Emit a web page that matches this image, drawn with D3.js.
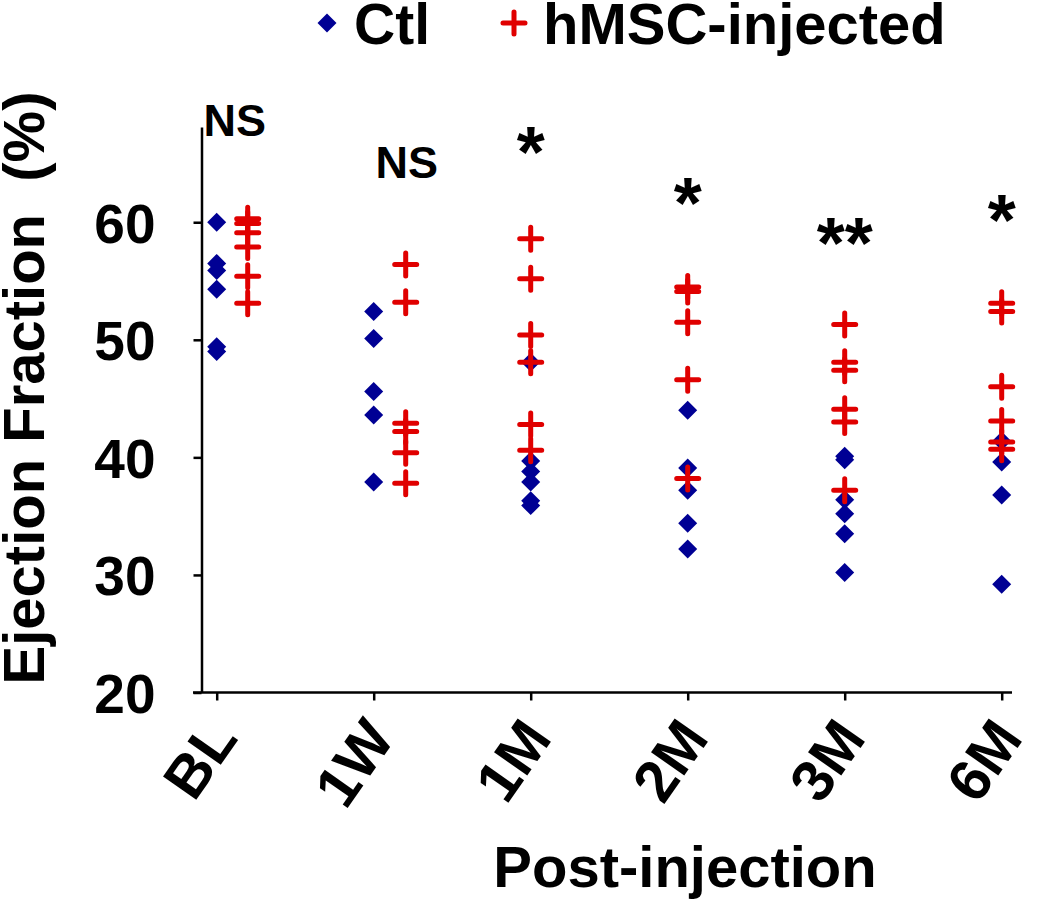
<!DOCTYPE html>
<html>
<head>
<meta charset="utf-8">
<script src="https://cdn.jsdelivr.net/npm/d3@7"></script>
<style>
  body { margin: 0; background: #fff; }
  svg { display: block; font-family: "Liberation Sans", Arial, sans-serif; font-weight: bold; }
</style>
</head>
<body>
<svg id="chart" width="1050" height="900"></svg>
<script>
// ---- data ----
const categories = ["BL", "1W", "1M", "2M", "3M", "6M"];
const ctlValues = [
  [60.0, 56.5, 55.9, 54.3, 49.4, 49.0],
  [52.4, 50.1, 45.6, 43.6, 37.9],
  [48.1, 39.7, 38.8, 37.9, 36.3, 35.9],
  [44.0, 39.1, 37.2, 34.4, 32.2],
  [40.1, 39.8, 36.4, 35.2, 33.5, 30.2],
  [41.4, 39.6, 36.8, 29.2]
];
const hmscValues = [
  [60.3, 59.9, 59.1, 57.9, 55.4, 53.1],
  [56.4, 53.2, 42.9, 42.2, 40.4, 37.8],
  [58.6, 55.2, 50.4, 48.1, 42.8, 40.6],
  [54.5, 54.1, 51.5, 46.6, 38.2],
  [51.3, 48.1, 47.4, 44.1, 43.0, 37.2],
  [53.1, 52.4, 46.0, 43.1, 41.3, 40.7]
];
const yTicks = [20, 30, 40, 50, 60];
const sigLabels = ["NS", "NS", "*", "*", "**", "*"];
const sigLevels = [67.3, 63.8, 66.8, 62.5, 59.1, 61.0];
const seriesNames = ["Ctl", "hMSC-injected"];

// ---- layout ----
const svg = d3.select("#chart");
const ctlColor = "#000094";
const hmscColor = "#e00000";
const x = d3.scalePoint().domain(categories).range([216.7, 1001.7]);
const y = d3.scaleLinear().domain([20, 68.1]).range([692.5, 127]);
const hmscShift = [31, 32, 0, 0, 0, 0];
const sigShift = [18, 33, 0, 0, 0, 0];

const diamond = r => `M0,${-r}L${r},0L0,${r}L${-r},0Z`;
const crossPath = (w, h) => `M${-w},0H${w}M0,${-h}V${h}`;

// axes
const yAxis = svg.append("g").attr("transform", "translate(201.5,0)")
  .call(d3.axisLeft(y).tickValues(yTicks).tickSize(8).tickSizeOuter(0).tickPadding(38));
yAxis.select(".domain").attr("stroke-width", 2.5).attr("stroke", "#000");
yAxis.selectAll(".tick line").attr("stroke-width", 2.5).attr("stroke", "#000");
yAxis.selectAll(".tick text").attr("font-size", 55).attr("font-weight", "bold")
  .attr("font-family", "Liberation Sans, Arial, sans-serif").attr("fill", "#000").attr("dy", "0.36em");

const xAxis = svg.append("g").attr("transform", "translate(0,692.5)")
  .call(d3.axisBottom(x).tickSize(8).tickSizeOuter(0));
xAxis.select(".domain").attr("d", "M193,0H1012").attr("stroke-width", 2.5).attr("stroke", "#000");
xAxis.selectAll(".tick line").attr("stroke-width", 2.5).attr("stroke", "#000");
xAxis.selectAll(".tick text")
  .attr("x", 0).attr("y", 0).attr("dy", 0)
  .attr("transform", "translate(22,46) rotate(-55)")
  .attr("text-anchor", "end")
  .attr("font-size", 59).attr("font-weight", "bold")
  .attr("font-family", "Liberation Sans, Arial, sans-serif").attr("fill", "#000");

// points
const ctlPts = [];
ctlValues.forEach((arr, i) => arr.forEach(v => ctlPts.push({c: categories[i], v})));
const hmscPts = [];
hmscValues.forEach((arr, i) => arr.forEach(v => hmscPts.push({c: categories[i], i, v})));

svg.append("g").selectAll("path").data(ctlPts).join("path")
  .attr("d", diamond(9.5))
  .attr("transform", d => `translate(${x(d.c)},${y(d.v)})`)
  .attr("fill", ctlColor);

svg.append("g").selectAll("path").data(hmscPts).join("path")
  .attr("d", crossPath(11, 11.5))
  .attr("transform", d => `translate(${x(d.c) + hmscShift[d.i]},${y(d.v)})`)
  .attr("stroke", hmscColor).attr("stroke-width", 5).attr("stroke-linecap", "round").attr("fill", "none");

// significance labels
svg.append("g").selectAll("text").data(sigLabels).join("text")
  .attr("x", (d, i) => x(categories[i]) + sigShift[i])
  .attr("y", (d, i) => d === "NS" ? y(sigLevels[i]) : y(sigLevels[i]) + 35)
  .attr("text-anchor", "middle")
  .attr("font-size", d => d === "NS" ? 45 : 72)
  .attr("fill", "#000")
  .text(d => d);

// axis titles
svg.append("text")
  .attr("transform", "translate(44,388) rotate(-90)")
  .attr("text-anchor", "middle").attr("font-size", 58).attr("fill", "#000")
  .attr("xml:space", "preserve").style("white-space", "pre")
  .text("Ejection Fraction  (%)");
svg.append("text")
  .attr("x", 685).attr("y", 887).attr("text-anchor", "middle")
  .attr("font-size", 58).attr("fill", "#000")
  .text("Post-injection");

// legend
const legend = svg.append("g");
legend.append("path").attr("d", diamond(9.5)).attr("transform", "translate(327,23)").attr("fill", ctlColor);
legend.append("text").attr("x", 354).attr("y", 44).attr("font-size", 57).attr("fill", "#000").text(seriesNames[0]);
legend.append("path").attr("d", crossPath(11, 11)).attr("transform", "translate(514,23)")
  .attr("stroke", hmscColor).attr("stroke-width", 5).attr("stroke-linecap", "round");
legend.append("text").attr("x", 543).attr("y", 44).attr("font-size", 58).attr("fill", "#000").text(seriesNames[1]);
</script>
</body>
</html>
